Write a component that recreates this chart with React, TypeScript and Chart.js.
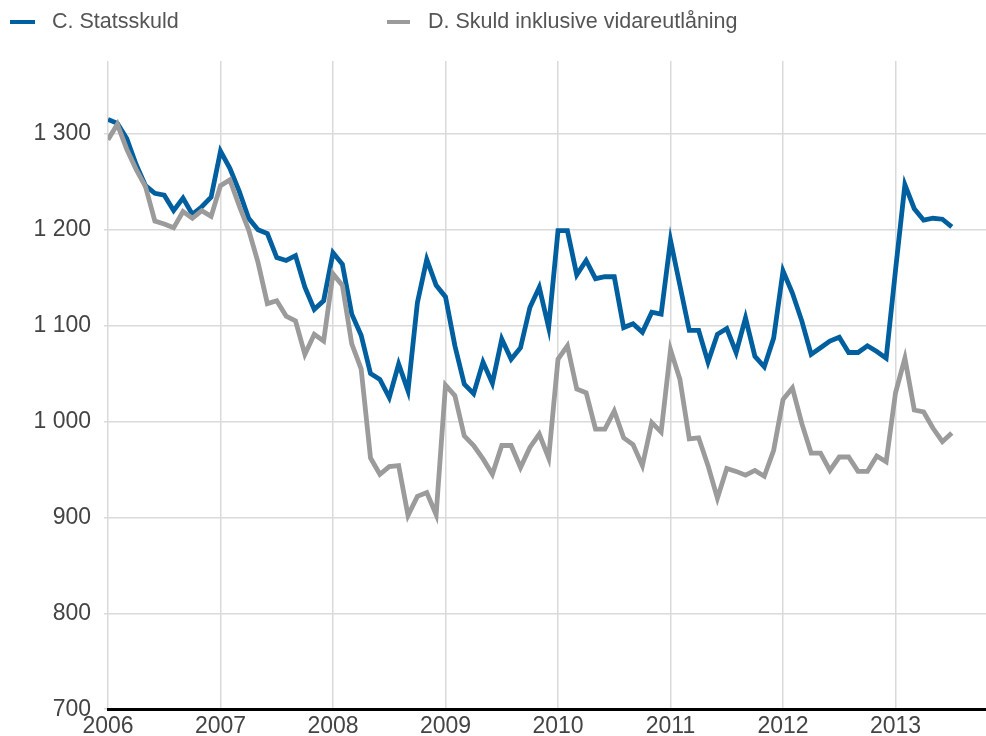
import React, { useEffect, useRef } from "react";
import { Chart, registerables } from "chart.js";

Chart.register(...registerables);

const yearLabels = ["2006", "2007", "2008", "2009", "2010", "2011", "2012", "2013"];
const yTickLabels = ["700", "800", "900", "1 000", "1 100", "1 200", "1 300"];

const seriesNames = ["C. Statsskuld", "D. Skuld inklusive vidareutlåning"];

// Monthly values, Jan 2006 – Jul 2013
const statsskuld = [
  1315, 1311, 1295, 1268, 1246, 1238, 1236, 1220, 1233, 1216, 1224, 1234,
  1282, 1264, 1240, 1212, 1200, 1196, 1171, 1168, 1173, 1140, 1117, 1126,
  1176, 1164, 1112, 1090, 1050, 1044, 1025, 1060, 1032, 1124, 1169, 1142,
  1130, 1079, 1039, 1029, 1062, 1040, 1086, 1065, 1077, 1119, 1140, 1098,
  1199, 1199, 1153, 1168, 1149, 1151, 1151, 1098, 1102, 1093, 1114, 1112,
  1189, 1142, 1095, 1095, 1062, 1091, 1097, 1072, 1108, 1068, 1057, 1087,
  1157, 1134, 1105, 1070, 1077, 1084, 1088, 1072, 1072, 1079, 1073, 1066,
  1158, 1247, 1222, 1210, 1212, 1211, 1203,
];

const skuldInklVidareutlaning = [
  1294, 1310, 1284, 1263, 1245, 1209, 1206, 1202, 1219, 1212, 1220, 1214,
  1246, 1252, 1225, 1200, 1166, 1123, 1126, 1110, 1105, 1070, 1091, 1084,
  1154, 1142, 1081, 1055, 962, 945, 953, 954, 902, 922, 926, 903,
  1038, 1027, 985, 975, 961, 945, 975, 975, 952, 973, 987, 962,
  1065, 1079, 1034, 1030, 992, 992, 1011, 983, 976, 954, 999, 989,
  1075, 1044, 982, 983, 954, 920, 951, 948, 944, 949, 943, 970,
  1023, 1035, 998, 967, 967, 949, 963, 963, 948, 948, 964, 958,
  1030, 1066, 1012, 1010, 993, 979, 988,
];

const BLUE = "#005f9f";
const GREY = "#9b9b9b";

export default function App() {
  const canvasRef = useRef<HTMLCanvasElement | null>(null);

  useEffect(() => {
    document.body.style.margin = "0";
    const canvas = canvasRef.current;
    if (!canvas) return;
    const toPoints = (arr: number[]) => arr.map((y, i) => ({ x: i, y }));
    const chart = new Chart(canvas, {
      type: "line",
      data: {
        datasets: [
          {
            label: seriesNames[0],
            data: toPoints(statsskuld),
            borderColor: BLUE,
            backgroundColor: BLUE,
            borderWidth: 4.8,
            pointRadius: 0,
            tension: 0,
            order: 1,
          },
          {
            label: seriesNames[1],
            data: toPoints(skuldInklVidareutlaning),
            borderColor: GREY,
            backgroundColor: GREY,
            borderWidth: 4.8,
            pointRadius: 0,
            tension: 0,
            order: 0,
          },
        ],
      },
      options: {
        animation: false,
        responsive: false,
        maintainAspectRatio: false,
        layout: { padding: { top: 61, left: 0, right: 0, bottom: 0 } },
        plugins: {
          legend: { display: false },
          tooltip: { enabled: false },
        },
        scales: {
          x: {
            type: "linear",
            min: 0,
            max: 93.65,
            afterFit: (scale: any) => {
              scale.height = 26;
            },
            grid: {
              color: "#dadada",
              lineWidth: 1.5,
              tickLength: 0,
              drawTicks: false,
            },
            border: { display: true, color: "#000000", width: 3 },
            ticks: {
              stepSize: 12,
              includeBounds: false,
              autoSkip: false,
              maxRotation: 0,
              padding: 6,
              color: "#444444",
              font: { family: "Arial, 'Liberation Sans', sans-serif", size: 23, lineHeight: 1 },
              callback: (v: any) => {
                const n = Number(v);
                if (n % 12 !== 0) return "";
                return yearLabels[n / 12] ?? "";
              },
            },
          },
          y: {
            min: 700,
            max: 1376,
            afterFit: (scale: any) => {
              scale.width = 108;
            },
            grid: {
              color: "#dadada",
              lineWidth: 1.5,
              tickLength: 4,
            },
            border: { display: false },
            ticks: {
              stepSize: 100,
              includeBounds: false,
              padding: 13,
              color: "#444444",
              font: { family: "Arial, 'Liberation Sans', sans-serif", size: 23 },
              callback: (v: any) => {
                const idx = (Number(v) - 700) / 100;
                return yTickLabels[idx] ?? "";
              },
            },
          },
        },
      },
    });
    return () => chart.destroy();
  }, []);

  const legendText: React.CSSProperties = {
    position: "absolute",
    top: 11,
    fontFamily: "Arial, 'Liberation Sans', sans-serif",
    fontSize: "21.5px",
    lineHeight: "21.5px",
    color: "#555555",
    whiteSpace: "nowrap",
  };
  const swatch = (color: string, left: number, width: number): React.CSSProperties => ({
    position: "absolute",
    left,
    top: 20,
    width,
    height: 4,
    background: color,
  });

  return (
    <div style={{ position: "relative", width: 986, height: 736, background: "#ffffff" }}>
      <canvas ref={canvasRef} width={986} height={736} style={{ display: "block", width: 986, height: 736 }} />
      <div style={swatch(BLUE, 10, 25)} />
      <div style={{ ...legendText, left: 52 }}>{seriesNames[0]}</div>
      <div style={swatch(GREY, 387, 23)} />
      <div style={{ ...legendText, left: 428 }}>{seriesNames[1]}</div>
    </div>
  );
}
